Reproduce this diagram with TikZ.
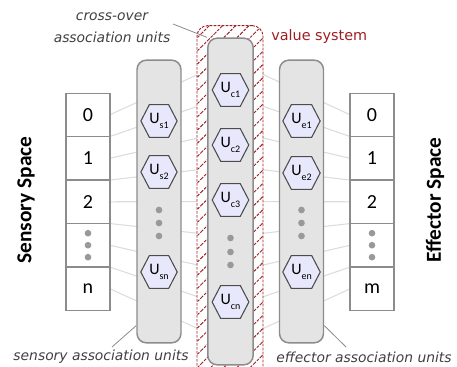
\documentclass[tikz,border=0pt]{standalone}
\usepackage{fontspec}
\setmainfont{Carlito}
\newfontfamily\notefont{DejaVu Sans}
\usepackage{tikz}
\usetikzlibrary{calc,shapes,shapes.symbols,patterns.meta,backgrounds}
\definecolor{hexfill}{RGB}{232,232,252}
\definecolor{colfill}{RGB}{228,228,228}
\definecolor{valred}{RGB}{160,30,35}
\definecolor{linkgray}{RGB}{220,220,220}
\tikzstyle{cell}=[draw=black!45,line width=1.1pt,fill=white,minimum width=33pt,minimum height=32.6pt,inner sep=0pt,font=\fontsize{15}{17}\selectfont]
\tikzstyle{unitcol}=[draw=black!45,line width=1.1pt,fill=colfill,rounded corners=7pt,minimum width=33pt,inner sep=0pt]
\tikzstyle{unit}=[signal,signal to=west and east,signal pointer angle=125,draw=black!70,line width=0.8pt,fill=hexfill,minimum width=23pt,minimum height=24.5pt,inner sep=0pt]
\tikzstyle{dot}=[circle,fill=black!40,minimum size=5pt,inner sep=0pt]
\tikzstyle{link}=[draw=linkgray,line width=0.8pt]
\tikzstyle{callout}=[draw=black!45,line width=0.6pt]
\tikzstyle{note}=[font=\notefont\fontsize{10.4}{16.5}\selectfont\itshape,text=black!75,inner sep=0pt]
\tikzstyle{space}=[font=\fontsize{16}{18}\selectfont\bfseries,rotate=90,inner sep=0pt]
\tikzstyle{valbox}=[draw=valred,dash pattern=on 2pt off 1pt,line width=0.7pt,rounded corners=8pt,preaction={fill=white},pattern={Lines[angle=45,distance=7pt,line width=0.7pt]},pattern color=valred,minimum width=49.5pt,minimum height=266pt]
\newcommand{\ulabel}[1]{\fontsize{12}{13}\selectfont U\raisebox{-3.5pt}{\fontsize{7.5}{8}\selectfont#1}}

\begin{document}
\begin{tikzpicture}[x=0.75pt,y=-0.75pt]
  \clip (0,0) rectangle (457,367);
  % sensory and effector spaces
  \foreach \lbl/\id [count=\r from 0] in {0/0,1/1,2/2,{}/d,n/n}{
    \node[cell] (s\id) at (88,{115+43.4*\r}) {\lbl};
  }
  \foreach \lbl/\id [count=\r from 0] in {0/0,1/1,2/2,{}/d,m/n}{
    \node[cell] (e\id) at (372,{115+43.4*\r}) {\lbl};
  }
  \foreach \dy [count=\i] in {-12,0,12}{
    \node[dot] (sd\i) at ($(sd)+(0,\dy)$) {};
    \node[dot] (ed\i) at ($(ed)+(0,\dy)$) {};
  }

  % value system and association columns
  \node[valbox] (vsys) at (230,203) {};
  \node[unitcol,minimum height=212pt] (scol) at (159,201.5) {};
  \node[unitcol,minimum width=34pt,minimum height=245pt] (ccol) at (230.5,201.5) {};
  \node[unitcol,minimum height=212pt] (ecol) at (301.5,201.5) {};

  % background wiring
  \begin{scope}[on background layer]
    \foreach \k in {1,...,9}{
      \pgfmathsetmacro\t{\k/10}
      \draw[link] ($(s0.north east)!\t!(sn.south east)$) -- ($(ccol.north west)!\t!(ccol.south west)$);
      \draw[link] ($(e0.north west)!\t!(en.south west)$) -- ($(ccol.north east)!\t!(ccol.south east)$);
    }
  \end{scope}

  % units
  \foreach \id/\yy in {s1/121,s2/172,sn/272}{
    \node[unit] (u\id) at (159,\yy) {\ulabel{\id}};
  }
  \foreach \id/\yy in {c1/90,c2/145,c3/200,cn/302}{
    \node[unit] (u\id) at (230.5,\yy) {\ulabel{\id}};
  }
  \foreach \id/\yy in {e1/121,e2/173,en/272}{
    \node[unit] (u\id) at (301.5,\yy) {\ulabel{\id}};
  }
  \foreach \yy [count=\i] in {210,223,236}{
    \node[dot] (sdot\i) at (159,\yy) {};
    \node[dot] (edot\i) at (301.5,\yy) {};
  }
  \foreach \yy [count=\i] in {238,252,265}{
    \node[dot] (cdot\i) at (230.5,\yy) {};
  }

  % labels
  \node[space] (sspace) at (26,200) {Sensory Space};
  \node[space] (espace) at (435,200) {Effector Space};
  \node[note,align=center] (xnote) at (112,28) {cross-over\\association units};
  \node[note] (snote) at (101,357) {sensory association units};
  \node[note] (enote) at (364,357) {effector association units};
  \node[font=\notefont\fontsize{10.8}{12}\selectfont,text=valred,anchor=west,inner sep=0pt] (vlabel) at (271,37) {value system};

  \coordinate (xtip) at (173,24);
  \coordinate (stip) at (112,347);
  \coordinate (etip) at (346,347);
  \draw[callout] (xtip) -- (ccol.north west);
  \draw[callout] (stip) -- ($(scol.south west)+(0,-18)$);
  \draw[callout] (etip) -- ($(ecol.south east)+(0,-18)$);
\end{tikzpicture}
\end{document}
